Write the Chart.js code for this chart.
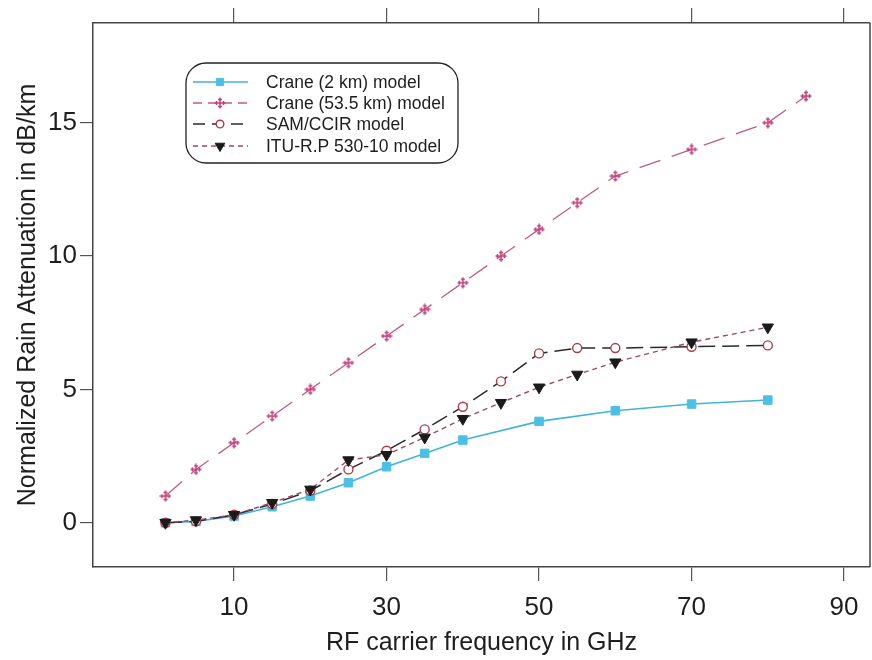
<!DOCTYPE html>
<html>
<head>
<meta charset="utf-8">
<script src="https://cdn.jsdelivr.net/npm/chart.js@4.4.0/dist/chart.umd.min.js"></script>
<style>
html, body { margin: 0; padding: 0; background: #fff; }
</style>
</head>
<body>
<canvas id="rainChart" width="872" height="660"></canvas>
<script>
const freqCrane2 = [1, 5, 10, 15, 20, 25, 30, 35, 40, 50, 60, 70, 80];
const crane2 = [0, 0.05, 0.25, 0.6, 1.0, 1.5, 2.1, 2.6, 3.1, 3.8, 4.2, 4.45, 4.6];
const freqCrane53 = [1, 5, 10, 15, 20, 25, 30, 35, 40, 45, 50, 55, 60, 70, 80, 85];
const crane53 = [1, 2, 3, 4, 5, 6, 7, 8, 9, 10, 11, 12, 13, 14, 15, 16];
const freqModels = [1, 5, 10, 15, 20, 25, 30, 35, 40, 45, 50, 55, 60, 70, 80];
const samCcir = [0, 0.05, 0.3, 0.7, 1.2, 2.0, 2.7, 3.5, 4.35, 5.3, 6.35, 6.55, 6.55, 6.6, 6.65];
const ituR = [0, 0.1, 0.3, 0.75, 1.25, 2.35, 2.55, 3.2, 3.9, 4.5, 5.08, 5.56, 6.02, 6.77, 7.33];
const xTicks = [10, 30, 50, 70, 90];
const yTicks = [0, 5, 10, 15];
const seriesNames = ['Crane (2 km) model', 'Crane (53.5 km) model', 'SAM/CCIR model', 'ITU-R.P 530-10 model'];

const fontFam = "'Liberation Sans', Arial, sans-serif";
Chart.defaults.font.family = fontFam;
Chart.defaults.color = '#1e1e1e';

function pairs(xs, ys) {
    return xs.map((x, i) => ({ x: x, y: ys[i] }));
}

// plus-shaped marker with small bars on the arms
function makeCross(color) {
    const c = document.createElement('canvas');
    c.width = 12; c.height = 12;
    const g = c.getContext('2d');
    g.strokeStyle = color;
    g.lineWidth = 1.5;
    g.beginPath();
    g.moveTo(6, 0.5); g.lineTo(6, 11.5);
    g.moveTo(0.5, 6); g.lineTo(11.5, 6);
    g.moveTo(4, 2.5); g.lineTo(8, 2.5);
    g.moveTo(4, 9.5); g.lineTo(8, 9.5);
    g.moveTo(2.5, 4); g.lineTo(2.5, 8);
    g.moveTo(9.5, 4); g.lineTo(9.5, 8);
    g.stroke();
    return c;
}
const crossMark = makeCross('#c2407c');

const frameLine = {
    id: 'frameLine',
    afterDraw(chart) {
        const a = chart.chartArea, ctx = chart.ctx;
        ctx.save();
        ctx.strokeStyle = '#444';
        ctx.lineWidth = 1.5;
        ctx.beginPath();
        ctx.moveTo(a.right, a.top);
        ctx.lineTo(a.right, a.bottom);
        ctx.stroke();
        ctx.restore();
    }
};

const boxLegend = {
    id: 'boxLegend',
    afterDraw(chart) {
        const ctx = chart.ctx;
        ctx.save();
        ctx.strokeStyle = '#222';
        ctx.lineWidth = 1.3;
        ctx.beginPath();
        ctx.roundRect(186, 63, 272, 100, 20);
        ctx.stroke();
        const rows = [82, 103, 124, 146];
        chart.data.datasets.forEach((ds, i) => {
            const y = rows[i];
            ctx.save();
            ctx.strokeStyle = ds.borderColor;
            ctx.lineWidth = ds.borderWidth;
            ctx.setLineDash(ds.legendDash || []);
            ctx.beginPath();
            ctx.moveTo(193, y);
            ctx.lineTo(248, y);
            ctx.stroke();
            ctx.restore();
            ctx.save();
            ctx.fillStyle = ds.pointBackgroundColor;
            ctx.strokeStyle = ds.pointBorderColor;
            ctx.lineWidth = ds.pointBorderWidth;
            Chart.helpers.drawPoint(ctx, {
                pointStyle: ds.pointStyle,
                rotation: ds.pointRotation || 0,
                radius: ds.pointRadius * 0.85,
                borderWidth: ds.pointBorderWidth
            }, 220, y);
            ctx.restore();
            ctx.fillStyle = '#1e1e1e';
            ctx.font = '17.5px ' + fontFam;
            ctx.textBaseline = 'middle';
            ctx.fillText(seriesNames[i], 266, y + 1);
        });
        ctx.restore();
    }
};

function fixX(h) {
    return s => { s.height = h; s.paddingLeft = 0; s.paddingRight = 0; };
}

const ctx = document.getElementById('rainChart').getContext('2d');
const rainChart = new Chart(ctx, {
    type: 'line',
    data: {
        datasets: [
            {
                label: seriesNames[0],
                data: pairs(freqCrane2, crane2),
                borderColor: '#3fb4dc',
                borderWidth: 1.6,
                pointStyle: 'rect',
                pointRadius: 6,
                pointBackgroundColor: '#4cc0e4',
                pointBorderColor: '#4cc0e4',
                pointBorderWidth: 1,
                order: 4
            },
            {
                label: seriesNames[1],
                data: pairs(freqCrane53, crane53),
                borderColor: '#c25a88',
                borderWidth: 1.3,
                borderDash: [22, 12],
                legendDash: [9, 6],
                pointStyle: crossMark,
                pointRadius: 6,
                pointBackgroundColor: '#c2407c',
                pointBorderColor: '#c2407c',
                pointBorderWidth: 1,
                order: 3
            },
            {
                label: seriesNames[2],
                data: pairs(freqModels, samCcir),
                borderColor: '#2a2a2a',
                borderWidth: 1.5,
                borderDash: [17, 7],
                legendDash: [12, 7],
                pointStyle: 'circle',
                pointRadius: 4.5,
                pointBackgroundColor: '#ffffff',
                pointBorderColor: '#b23a4c',
                pointBorderWidth: 1.4,
                order: 2
            },
            {
                label: seriesNames[3],
                data: pairs(freqModels, ituR),
                borderColor: '#9a4a66',
                borderWidth: 1.4,
                borderDash: [5, 4],
                legendDash: [5, 4],
                pointStyle: 'triangle',
                pointRotation: 180,
                pointRadius: 6.5,
                pointBackgroundColor: '#1a1a1a',
                pointBorderColor: '#1a1a1a',
                pointBorderWidth: 1,
                order: 1
            }
        ]
    },
    options: {
        responsive: false,
        animation: false,
        layout: { autoPadding: false, padding: { left: 0, right: 2, top: 0, bottom: 0 } },
        plugins: {
            legend: { display: false },
            tooltip: { enabled: false }
        },
        scales: {
            x: {
                type: 'linear',
                position: 'bottom',
                min: -8.5,
                max: 93.4,
                afterBuildTicks: s => { s.ticks = xTicks.map(v => ({ value: v })); },
                afterFit: fixX(93),
                grid: { drawOnChartArea: false, drawTicks: true, tickLength: 14, color: '#555', lineWidth: 1.2 },
                border: { color: '#444', width: 1.5 },
                ticks: { font: { size: 26 }, padding: 11, maxRotation: 0 },
                title: {
                    display: true,
                    text: 'RF carrier frequency in GHz',
                    font: { size: 25 },
                    padding: { top: 4, bottom: 2 }
                }
            },
            xTop: {
                type: 'linear',
                position: 'top',
                min: -8.5,
                max: 93.4,
                afterBuildTicks: s => { s.ticks = xTicks.map(v => ({ value: v })); },
                afterFit: fixX(23),
                grid: { drawOnChartArea: false, drawTicks: true, tickLength: 15, color: '#555', lineWidth: 1.2 },
                border: { color: '#444', width: 1.5 },
                ticks: { display: false }
            },
            y: {
                type: 'linear',
                position: 'left',
                min: -1.66,
                max: 18.74,
                afterBuildTicks: s => { s.ticks = yTicks.map(v => ({ value: v })); },
                afterFit: s => { s.width = 93; s.paddingTop = 0; s.paddingBottom = 0; },
                grid: { drawOnChartArea: false, drawTicks: true, tickLength: 13, color: '#555', lineWidth: 1.2 },
                border: { color: '#444', width: 1.5 },
                ticks: { font: { size: 26 }, padding: 3 },
                title: {
                    display: true,
                    text: 'Normalized Rain Attenuation in dB/km',
                    font: { size: 25 },
                    padding: { top: 13, bottom: 4 }
                }
            }
        }
    },
    plugins: [frameLine, boxLegend]
});
</script>
</body>
</html>
